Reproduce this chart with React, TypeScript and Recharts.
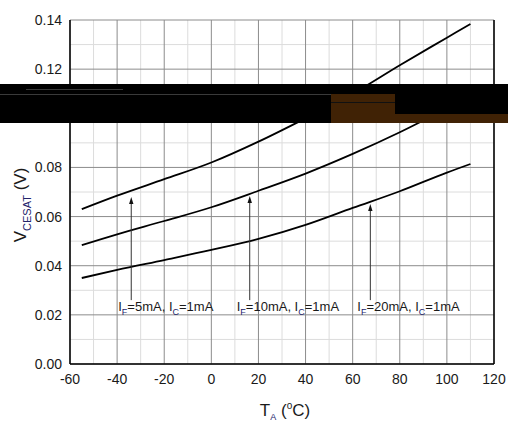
import React from "react";
import { CartesianGrid, Line, LineChart, ReferenceLine, XAxis, YAxis } from "recharts";

// Ambient temperature (°C) and saturation voltage (V)
const TEMPS = [-55, -40, -20, 0, 20, 40, 60, 80, 100, 110];
const VCE_IF5 = [0.063, 0.0685, 0.0752, 0.082, 0.0905, 0.1, 0.11, 0.1216, 0.1328, 0.1384];
const VCE_IF10 = [0.0484, 0.0528, 0.0582, 0.0638, 0.0705, 0.0775, 0.0855, 0.0943, 0.104, 0.109];
const VCE_IF20 = [0.035, 0.0383, 0.0423, 0.0464, 0.0509, 0.0566, 0.0635, 0.0703, 0.0779, 0.0814];

const X_TICKS = [-60, -40, -20, 0, 20, 40, 60, 80, 100, 120];
const Y_TICKS = [0, 0.02, 0.04, 0.06, 0.08, 0.1, 0.12, 0.14];
const X_MINOR = [-50, -30, -10, 10, 30, 50, 70, 90, 110];
const Y_MINOR = [0.01, 0.03, 0.05, 0.07, 0.09, 0.11, 0.13];

// arrow annotations: temperature, arrow bottom / tip voltage, label currents
const ARROWS = [
  { t: -34, from: 0.026, to: 0.068, iF: "5mA", iC: "1mA" },
  { t: 16.3, from: 0.026, to: 0.0684, iF: "10mA", iC: "1mA" },
  { t: 67.5, from: 0.026, to: 0.0651, iF: "20mA", iC: "1mA" },
];

const SERIES = [
  { key: "if5", values: VCE_IF5 },
  { key: "if10", values: VCE_IF10 },
  { key: "if20", values: VCE_IF20 },
];

const data = TEMPS.map((t, i) => {
  const row: Record<string, number> = { t };
  SERIES.forEach((s) => (row[s.key] = s.values[i]));
  return row;
});

const FONT = "'Liberation Sans', Arial, sans-serif";
const INK = "#1a1a1a";
const SUB = "#23236a";
const TICK = { fontSize: 14, fill: INK, fontFamily: FONT };

function XTitle({ viewBox }: any) {
  const cx = viewBox.x + viewBox.width / 2 + 3;
  return (
    <text x={cx} y={416} textAnchor="middle" fontFamily={FONT} fontSize={17} fill={INK}>
      <tspan>T</tspan>
      <tspan fontSize={9} dy={4} fill={SUB}>A</tspan>
      <tspan dy={-4}> (</tspan>
      <tspan fontSize={10} dy={-7}>o</tspan>
      <tspan dy={7}>C)</tspan>
    </text>
  );
}

function YTitle() {
  return (
    <text
      x={0}
      y={0}
      transform="translate(26,205) rotate(-90)"
      textAnchor="middle"
      fontFamily={FONT}
      fontSize={17}
      fill={INK}
    >
      <tspan>V</tspan>
      <tspan fontSize={11} dy={5} fill={SUB}>CESAT</tspan>
      <tspan dy={-5}> (V)</tspan>
    </text>
  );
}

function arrowShape(a: (typeof ARROWS)[number]) {
  return (p: any) => {
    const { x1, y1, x2, y2 } = p;
    return (
      <g>
        <line x1={x1} y1={y1} x2={x2} y2={y2 + 5} stroke="#333" strokeWidth={1} />
        <polygon points={`${x2},${y2} ${x2 - 2.2},${y2 + 7} ${x2 + 2.2},${y2 + 7}`} fill="#111" />
        <text x={x1 - 13} y={y1 + 11} fontFamily={FONT} fontSize={13} fill={INK}>
          <tspan>I</tspan>
          <tspan fontSize={9} dy={4} fill={SUB}>F</tspan>
          <tspan dy={-4}>{`=${a.iF}, I`}</tspan>
          <tspan fontSize={9} dy={4} fill={SUB}>C</tspan>
          <tspan dy={-4}>{`=${a.iC}`}</tspan>
        </text>
      </g>
    );
  };
}

export default function App() {
  return (
    <div style={{ position: "absolute", left: 0, top: 0, width: 508, height: 421, background: "#fff" }}>
      <LineChart width={508} height={421} data={data} margin={{ top: 20, right: 14, bottom: 0, left: 0 }}>
        <CartesianGrid
          stroke="#dcdcdc"
          horizontalValues={Y_MINOR}
          verticalValues={X_MINOR}
        />
        <CartesianGrid stroke="#8c8c8c" />
        <XAxis
          type="number"
          dataKey="t"
          domain={[-60, 120]}
          ticks={X_TICKS}
          tick={TICK}
          tickLine={false}
          tickMargin={4}
          axisLine={{ stroke: "#000", strokeWidth: 1.5 }}
          height={57}
          label={<XTitle />}
        />
        <YAxis
          type="number"
          domain={[0, 0.14]}
          ticks={Y_TICKS}
          tick={TICK}
          tickLine={false}
          tickFormatter={(v: number) => v.toFixed(2)}
          axisLine={{ stroke: "#000", strokeWidth: 1.5 }}
          width={70}
          label={<YTitle />}
        />
        <ReferenceLine x={120} stroke="#000" strokeWidth={1.5} />
        {SERIES.map((s) => (
          <Line
            key={s.key}
            type="monotone"
            dataKey={s.key}
            stroke="#000"
            strokeWidth={1.8}
            dot={false}
            isAnimationActive={false}
          />
        ))}
        {ARROWS.map((a) => (
          <ReferenceLine
            key={a.iF}
            segment={[
              { x: a.t, y: a.from },
              { x: a.t, y: a.to },
            ]}
            shape={arrowShape(a)}
          />
        ))}
      </LineChart>
      {/* scan artefact band over the upper part of the plot */}
      <div style={{ position: "absolute", left: 0, top: 84, width: 508, height: 39, background: "#000" }} />
      <div style={{ position: "absolute", left: 0, top: 94, width: 331, height: 1, background: "#3a3a3a" }} />
      <div style={{ position: "absolute", left: 26, top: 89, width: 97, height: 1, background: "#3a3a3a" }} />
      <div style={{ position: "absolute", left: 331, top: 94, width: 64, height: 29, background: "#402205" }} />
      <div style={{ position: "absolute", left: 331, top: 102, width: 64, height: 1, background: "#111" }} />
      <div style={{ position: "absolute", left: 395, top: 114, width: 113, height: 9, background: "#402205" }} />
    </div>
  );
}
